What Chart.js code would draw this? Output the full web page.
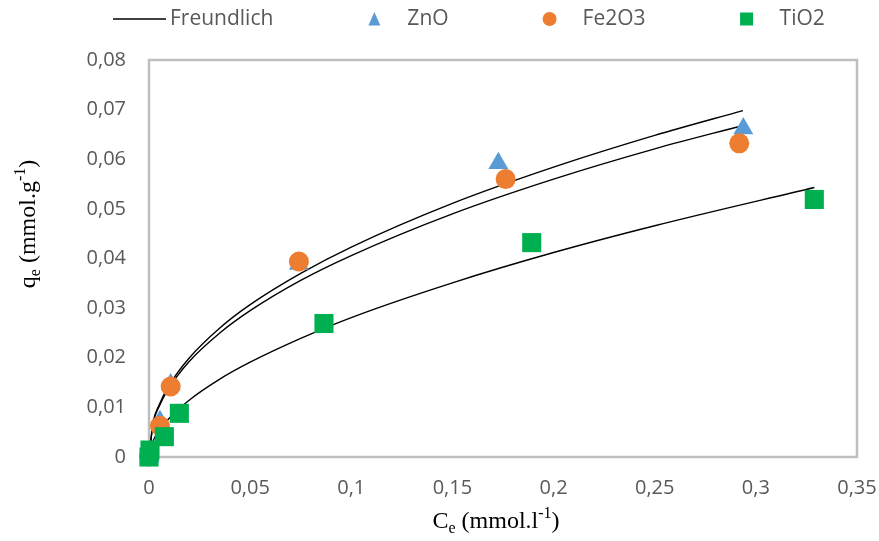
<!DOCTYPE html>
<html>
<head>
<meta charset="utf-8">
<title>Freundlich isotherms</title>
<script src="https://cdn.jsdelivr.net/npm/chart.js@4.4.1/dist/chart.umd.min.js"></script>
<style>
  html, body { margin: 0; padding: 0; background: #ffffff; }
  #wrap { width: 879px; height: 541px; }
</style>
</head>
<body>
<div id="wrap"><canvas id="chart" width="879" height="541"></canvas></div>
<script>
// Measured equilibrium data (Ce in mmol/l, qe in mmol/g)
const ceZnO    = [0, 0.0003, 0.0054, 0.0107, 0.0741, 0.1727, 0.2938];
const qeZnO    = [0, 0.0003, 0.0072, 0.0146, 0.0389, 0.0592, 0.0662];
const ceFe2O3  = [0, 0.0054, 0.0107, 0.0741, 0.1763, 0.2918];
const qeFe2O3  = [0.0001, 0.0063, 0.0142, 0.0394, 0.0560, 0.0632];
const ceTiO2   = [0, 0.0005, 0.0076, 0.0150, 0.0865, 0.1892, 0.3289];
const qeTiO2   = [0, 0.0014, 0.0041, 0.0088, 0.0269, 0.0432, 0.0519];

// Freundlich model curves
const ceFitOxides = [0, 0.002, 0.005, 0.01, 0.02, 0.035, 0.05, 0.075, 0.1, 0.15, 0.2, 0.25, 0.2936];
const qFitZnO     = [0, 0.0069, 0.0105, 0.0145, 0.0200, 0.0260, 0.0307, 0.0370, 0.0423, 0.0511, 0.0584, 0.0648, 0.0698];
const qFitFe2O3   = [0, 0.0067, 0.0102, 0.0140, 0.0193, 0.0250, 0.0295, 0.0356, 0.0406, 0.0490, 0.0560, 0.0621, 0.0668];
const ceFitTiO2   = [0, 0.002, 0.005, 0.01, 0.02, 0.035, 0.05, 0.075, 0.1, 0.15, 0.2, 0.25, 0.3289];
const qFitTiO2    = [0, 0.0032, 0.0053, 0.0078, 0.0115, 0.0157, 0.0191, 0.0239, 0.0281, 0.0351, 0.0412, 0.0466, 0.0543];

// Axis tick labels (decimal comma)
const xTickLabels = ['0', '0,05', '0,1', '0,15', '0,2', '0,25', '0,3', '0,35'];
const yTickLabels = ['0', '0,01', '0,02', '0,03', '0,04', '0,05', '0,06', '0,07', '0,08'];

// Legend entries
const legendLabels = ['Freundlich', 'ZnO', 'Fe2O3', 'TiO2'];

const pts = (xs, ys) => xs.map((x, i) => ({ x: x, y: ys[i] }));

const COLORS = { zno: '#5B9BD5', fe: '#ED7D31', ti: '#00B050', line: '#000000', frame: '#BFBFBF', text: '#595959' };
const FONT_FAMILY = '"Open Sans", "Noto Sans", sans-serif';
const TICK_FONT = { family: FONT_FAMILY, size: 20 };
const LEGEND_FONT_SIZE = 21;

// Gray frame around the plotting area
const framePlugin = {
  id: 'frame',
  beforeDatasetsDraw(chart) {
    const a = chart.chartArea, ctx = chart.ctx;
    ctx.save();
    ctx.strokeStyle = COLORS.frame;
    ctx.lineWidth = 2.5;
    ctx.strokeRect(a.left, a.top, a.right - a.left, a.bottom - a.top);
    ctx.restore();
  }
};

// Draws runs of text with sub/superscripts, centred on (0,0) of the current transform
function drawRuns(ctx, runs, family) {
  const widths = runs.map(r => { ctx.font = r.size + 'px ' + family; return ctx.measureText(r.t).width; });
  const total = widths.reduce((s, w) => s + w, 0);
  let x = -total / 2;
  ctx.textBaseline = 'alphabetic';
  ctx.textAlign = 'left';
  runs.forEach((r, i) => {
    ctx.font = r.size + 'px ' + family;
    ctx.fillText(r.t, x, r.dy || 0);
    x += widths[i];
  });
}

const titlesPlugin = {
  id: 'axisTitles',
  afterDraw(chart) {
    const ctx = chart.ctx;
    const fam = '"Liberation Serif", "Times New Roman", serif';
    ctx.save();
    ctx.fillStyle = '#000000';
    ctx.translate(496, 528);
    drawRuns(ctx, [
      { t: 'C', size: 24 }, { t: 'e', size: 16, dy: 5 }, { t: ' (mmol.l', size: 24 },
      { t: '-1', size: 16, dy: -10 }, { t: ')', size: 24 }
    ], fam);
    ctx.restore();

    ctx.save();
    ctx.fillStyle = '#000000';
    ctx.translate(35, 224);
    ctx.rotate(-Math.PI / 2);
    drawRuns(ctx, [
      { t: 'q', size: 24 }, { t: 'e', size: 16, dy: 5 }, { t: ' (mmol.g', size: 24 },
      { t: '-1', size: 16, dy: -10 }, { t: ')', size: 24 }
    ], fam);
    ctx.restore();
  }
};

// Legend row across the top of the figure
const legendPlugin = {
  id: 'topLegend',
  afterDraw(chart) {
    const ctx = chart.ctx;
    const y = 19;
    ctx.save();
    ctx.font = LEGEND_FONT_SIZE + 'px ' + FONT_FAMILY;
    ctx.textBaseline = 'middle';
    ctx.textAlign = 'left';
    let x = 113;
    legendLabels.forEach((label, i) => {
      let textX;
      if (i === 0) {
        ctx.strokeStyle = COLORS.line;
        ctx.lineWidth = 1.3;
        ctx.beginPath(); ctx.moveTo(x, y); ctx.lineTo(x + 53, y); ctx.stroke();
        textX = x + 57;
      } else {
        const cx = x;
        if (i === 1) {
          ctx.fillStyle = COLORS.zno;
          ctx.beginPath(); ctx.moveTo(cx, y - 7); ctx.lineTo(cx + 6, y + 6.5); ctx.lineTo(cx - 6, y + 6.5); ctx.closePath(); ctx.fill();
        } else if (i === 2) {
          ctx.fillStyle = COLORS.fe;
          ctx.beginPath(); ctx.arc(cx, y, 7, 0, Math.PI * 2); ctx.fill();
        } else {
          ctx.fillStyle = COLORS.ti;
          ctx.fillRect(cx - 6.5, y - 6.5, 13, 13);
        }
        textX = cx + 33;
      }
      ctx.fillStyle = COLORS.text;
      ctx.fillText(label, textX, y);
      x = textX + ctx.measureText(label).width + 101;
    });
    ctx.restore();
  }
};

const fitLine = (data) => ({
  type: 'scatter',
  data: data,
  showLine: true,
  borderColor: COLORS.line,
  borderWidth: 1.4,
  pointRadius: 0,
  pointHoverRadius: 0,
  cubicInterpolationMode: 'monotone',
  clip: false,
  order: 3
});

new Chart(document.getElementById('chart'), {
  type: 'scatter',
  data: {
    datasets: [
      { label: 'TiO2', data: pts(ceTiO2, qeTiO2), pointStyle: 'rect', pointRadius: 13.5,
        backgroundColor: COLORS.ti, borderColor: COLORS.ti, borderWidth: 0, clip: false, order: 0 },
      { label: 'Fe2O3', data: pts(ceFe2O3, qeFe2O3), pointStyle: 'circle', pointRadius: 10,
        backgroundColor: COLORS.fe, borderColor: COLORS.fe, borderWidth: 0, clip: false, order: 1 },
      { label: 'ZnO', data: pts(ceZnO, qeZnO), pointStyle: 'triangle', pointRadius: 11.5,
        backgroundColor: COLORS.zno, borderColor: COLORS.zno, borderWidth: 0, clip: false, order: 2 },
      Object.assign({ label: 'Freundlich' }, fitLine(pts(ceFitOxides, qFitZnO))),
      Object.assign({ label: 'Freundlich Fe2O3' }, fitLine(pts(ceFitOxides, qFitFe2O3))),
      Object.assign({ label: 'Freundlich TiO2' }, fitLine(pts(ceFitTiO2, qFitTiO2)))
    ]
  },
  options: {
    responsive: false,
    animation: false,
    devicePixelRatio: 1,
    layout: { padding: { top: 60, right: 22, left: 0, bottom: 0 } },
    plugins: { legend: { display: false }, tooltip: { enabled: false } },
    scales: {
      x: {
        type: 'linear', min: 0, max: 0.35,
        afterFit(scale) { scale.height = 84; scale.paddingLeft = 0; scale.paddingRight = 0; },
        afterBuildTicks(scale) { scale.ticks = xTickLabels.map((_, i) => ({ value: i * 0.05 })); },
        grid: { display: false, drawTicks: false },
        border: { display: false },
        ticks: { padding: 19, color: COLORS.text, font: TICK_FONT, maxRotation: 0,
                 callback: (v, i) => xTickLabels[i] }
      },
      y: {
        type: 'linear', min: 0, max: 0.08,
        afterFit(scale) { scale.width = 149; scale.paddingTop = 0; scale.paddingBottom = 0; },
        afterBuildTicks(scale) { scale.ticks = yTickLabels.map((_, i) => ({ value: i * 0.01 })); },
        grid: { display: false, drawTicks: false },
        border: { display: false },
        ticks: { padding: 23, color: COLORS.text, font: TICK_FONT,
                 callback: (v, i) => yTickLabels[i] }
      }
    }
  },
  plugins: [framePlugin, titlesPlugin, legendPlugin]
});
</script>
</body>
</html>
